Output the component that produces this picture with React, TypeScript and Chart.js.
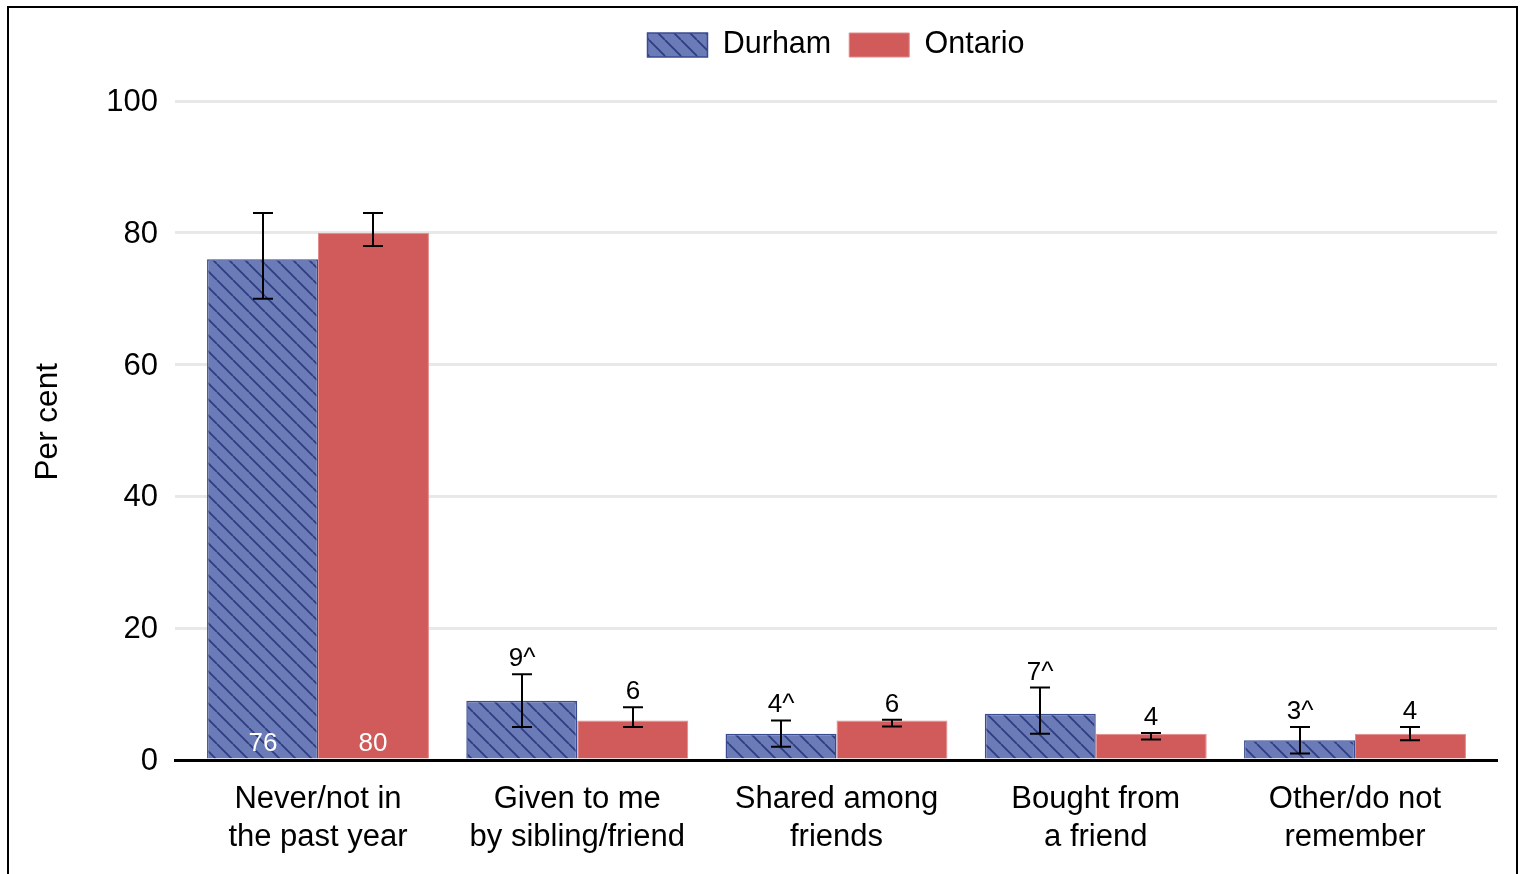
import React, { useEffect, useRef } from 'react';
import { Chart, registerables } from 'chart.js';

Chart.register(...registerables);

const categories: string[][] = [
  ['Never/not in', 'the past year'],
  ['Given to me', 'by sibling/friend'],
  ['Shared among', 'friends'],
  ['Bought from', 'a friend'],
  ['Other/do not', 'remember'],
];
const seriesNames = ['Durham', 'Ontario'];
const durhamValues = [76, 9, 4, 7, 3];
const ontarioValues = [80, 6, 6, 4, 4];
const durhamLow = [70, 5, 2, 4, 1];
const durhamHigh = [83, 13, 6, 11, 5];
const ontarioLow = [78, 5, 5.1, 3.1, 3];
const ontarioHigh = [83, 8, 6.1, 4.1, 5];
const durhamMarks = ['', '^', '^', '^', '^'];
const ontarioMarks = ['', '', '', '', ''];
const yMin = 0;
const yMax = 100;
const yStep = 20;
const yTitle = '  Per cent';

const FONT = '"Liberation Sans", Arial, Helvetica, sans-serif';

function makeHatch(): CanvasPattern | string {
  const c = document.createElement('canvas');
  c.width = 16;
  c.height = 16;
  const g = c.getContext('2d');
  if (!g) return '#6b7bb7';
  g.fillStyle = '#6b7bb7';
  g.fillRect(0, 0, 16, 16);
  g.strokeStyle = '#2e3d82';
  g.lineWidth = 1.8;
  g.beginPath();
  for (const k of [-16, 0, 16]) {
    g.moveTo(k, 0);
    g.lineTo(k + 16, 16);
  }
  g.stroke();
  const p = g.createPattern(c, 'repeat');
  return p || '#6b7bb7';
}

const errorLabelPlugin = {
  id: 'errorLabels',
  afterDatasetsDraw(chart: any) {
    const ctx = chart.ctx;
    const ys = chart.scales.y;
    const sets = [
      { low: durhamLow, high: durhamHigh, vals: durhamValues, marks: durhamMarks },
      { low: ontarioLow, high: ontarioHigh, vals: ontarioValues, marks: ontarioMarks },
    ];
    sets.forEach((s, di) => {
      const meta = chart.getDatasetMeta(di);
      meta.data.forEach((bar: any, j: number) => {
        const x = Math.round(bar.x);
        const yl = ys.getPixelForValue(s.low[j]);
        const yh = ys.getPixelForValue(s.high[j]);
        ctx.save();
        ctx.strokeStyle = '#000';
        ctx.lineWidth = 2;
        ctx.beginPath();
        ctx.moveTo(x, yl);
        ctx.lineTo(x, yh);
        ctx.moveTo(x - 10, yl);
        ctx.lineTo(x + 10, yl);
        ctx.moveTo(x - 10, yh);
        ctx.lineTo(x + 10, yh);
        ctx.stroke();
        const text = String(s.vals[j]) + s.marks[j];
        ctx.font = `26px ${FONT}`;
        ctx.textAlign = 'center';
        ctx.textBaseline = 'alphabetic';
        if (s.vals[j] >= 20) {
          ctx.fillStyle = '#ffffff';
          ctx.fillText(text, x, ys.getPixelForValue(0) - 9);
        } else {
          ctx.fillStyle = '#000';
          ctx.fillText(text, x, yh - 8);
        }
        ctx.restore();
      });
    });
  },
};

export default function App() {
  const ref = useRef<HTMLCanvasElement | null>(null);

  useEffect(() => {
    if (!ref.current) return;
    Chart.defaults.font.family = FONT;
    const hatch = makeHatch();
    const chart = new Chart(ref.current, {
      type: 'bar',
      data: {
        datasets: [
          {
            label: seriesNames[0],
            data: durhamValues.map((v, i) => ({ x: i, y: v })),
            backgroundColor: hatch as any,
            borderColor: '#3b4b91',
            borderWidth: 1.5,
          },
          {
            label: seriesNames[1],
            data: ontarioValues.map((v, i) => ({ x: i, y: v })),
            backgroundColor: '#d15b5b',
            borderColor: '#e08a8a',
            borderWidth: 1,
          },
        ],
      },
      options: {
        responsive: false,
        animation: false,
        devicePixelRatio: 1,
        layout: { padding: { top: 3.75, right: 19, bottom: 0, left: 0 } },
        datasets: { bar: { categoryPercentage: 0.856, barPercentage: 1 } },
        plugins: {
          tooltip: { enabled: false },
          legend: {
            display: true,
            position: 'top',
            fullSize: false,
            labels: {
              boxWidth: 60,
              boxHeight: 24,
              padding: 18,
              color: '#000',
              font: { size: 30.5, family: FONT },
            },
          },
          title: {
            display: true,
            text: '',
            weight: 500,
            fullSize: false,
            padding: { top: 20.75, bottom: 0 },
            font: { size: 10, lineHeight: 1 },
          } as any,
        },
        scales: {
          x: {
            type: 'linear',
            min: -0.5516,
            max: 4.5477,
            offset: false,
            grid: { display: false, drawTicks: false, offset: false },
            border: { display: true, color: '#000', width: 3, z: 1 } as any,
            afterFit: (s: any) => {
              s.height = 114;
            },
            ticks: {
              stepSize: 1,
              includeBounds: false,
              autoSkip: false,
              maxRotation: 0,
              minRotation: 0,
              padding: 20,
              color: '#000',
              font: { size: 31, lineHeight: 38 / 31, family: FONT },
              callback: (v: any) => (Number.isInteger(v) && categories[v] ? categories[v] : ''),
            },
          },
          y: {
            min: yMin,
            max: yMax,
            grid: { color: '#e8e8e8', lineWidth: 3, drawTicks: false },
            border: { display: false },
            afterFit: (s: any) => {
              s.width = 166;
            },
            ticks: {
              stepSize: yStep,
              padding: 17,
              labelOffset: 1.5,
              color: '#000',
              font: { size: 31, family: FONT },
            },
            title: {
              display: true,
              text: yTitle,
              color: '#000',
              font: { size: 31.5, family: FONT },
              padding: { top: 20, bottom: 0 },
            },
          },
        },
      },
      plugins: [errorLabelPlugin],
    });
    return () => chart.destroy();
  }, []);

  return (
    <div style={{ position: 'fixed', left: 0, top: 0, width: 1522, height: 874, overflow: 'hidden', background: '#fff' }}>
      <div style={{ position: 'absolute', left: 7, top: 6, width: 1507, height: 880, border: '2px solid #000' }}>
        <canvas ref={ref} width={1507} height={866} style={{ display: 'block', width: 1507, height: 866 }} />
      </div>
    </div>
  );
}
